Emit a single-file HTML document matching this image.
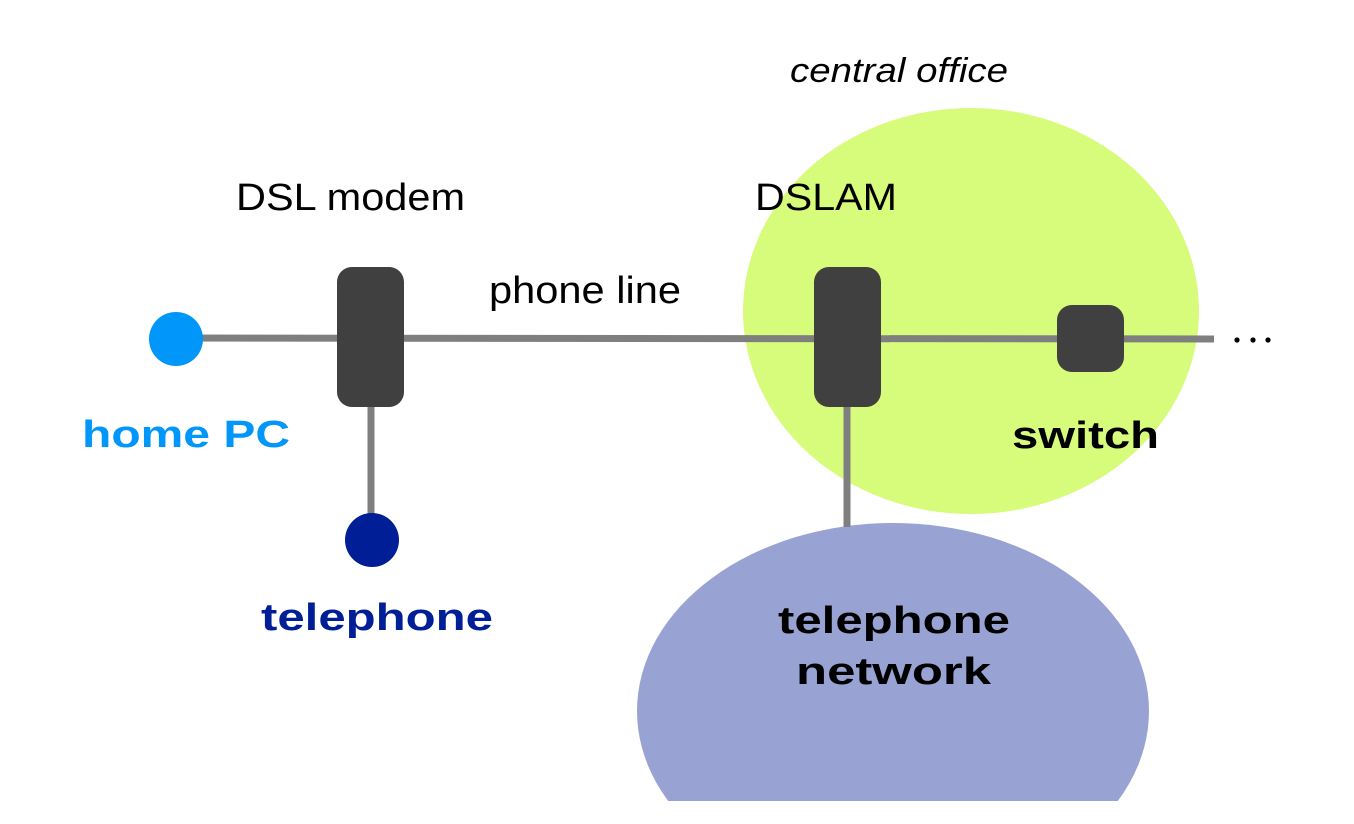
<!DOCTYPE html>
<html><head><meta charset="utf-8"><style>html,body{margin:0;padding:0;background:#fff;width:1354px;height:824px;overflow:hidden}svg{display:block}</style></head>
<body>
<svg width="1354" height="824" viewBox="0 0 1354 824" xmlns="http://www.w3.org/2000/svg" font-family="'Liberation Sans', sans-serif">
<defs><clipPath id="c"><rect x="0" y="0" width="1354" height="801"/></clipPath></defs>
<ellipse cx="971" cy="311" rx="228" ry="203" fill="#d7fb7a"/>
<ellipse cx="893" cy="711" rx="256" ry="188" fill="#98a3d3" clip-path="url(#c)"/>
<line x1="176" y1="338" x2="1214" y2="339" stroke="#7f7f7f" stroke-width="7"/>
<line x1="371" y1="400" x2="371" y2="540" stroke="#7f7f7f" stroke-width="7"/>
<line x1="847" y1="400" x2="847" y2="527" stroke="#7f7f7f" stroke-width="7"/>
<circle cx="176" cy="339" r="27" fill="#0096fa"/>
<circle cx="372" cy="540" r="27" fill="#001e96"/>
<rect x="337" y="267" width="67" height="140" rx="15" fill="#404040"/>
<rect x="814" y="267" width="67" height="140" rx="15" fill="#404040"/>
<rect x="1057" y="305" width="67" height="67" rx="15" fill="#404040"/>
<circle cx="1237" cy="340" r="2.6" fill="#000"/>
<circle cx="1253" cy="340" r="2.6" fill="#000"/>
<circle cx="1268" cy="340" r="2.6" fill="#000"/>
<text x="790" y="82" font-size="34" font-style="italic" textLength="218" lengthAdjust="spacingAndGlyphs">central office</text>
<text x="236" y="210" font-size="38" textLength="229" lengthAdjust="spacingAndGlyphs">DSL modem</text>
<text x="755" y="210" font-size="38" textLength="142" lengthAdjust="spacingAndGlyphs">DSLAM</text>
<text x="489" y="303" font-size="38" textLength="192" lengthAdjust="spacingAndGlyphs">phone line</text>
<text x="82" y="447" font-size="38" font-weight="bold" fill="#0096fa" textLength="208" lengthAdjust="spacingAndGlyphs">home PC</text>
<text x="261" y="630" font-size="38" font-weight="bold" fill="#001e96" textLength="232" lengthAdjust="spacingAndGlyphs">telephone</text>
<text x="1012" y="448" font-size="38" font-weight="bold" textLength="147" lengthAdjust="spacingAndGlyphs">switch</text>
<text x="778" y="633" font-size="38" font-weight="bold" textLength="232" lengthAdjust="spacingAndGlyphs">telephone</text>
<text x="796" y="684" font-size="38" font-weight="bold" textLength="195" lengthAdjust="spacingAndGlyphs">network</text>
</svg>
</body></html>
